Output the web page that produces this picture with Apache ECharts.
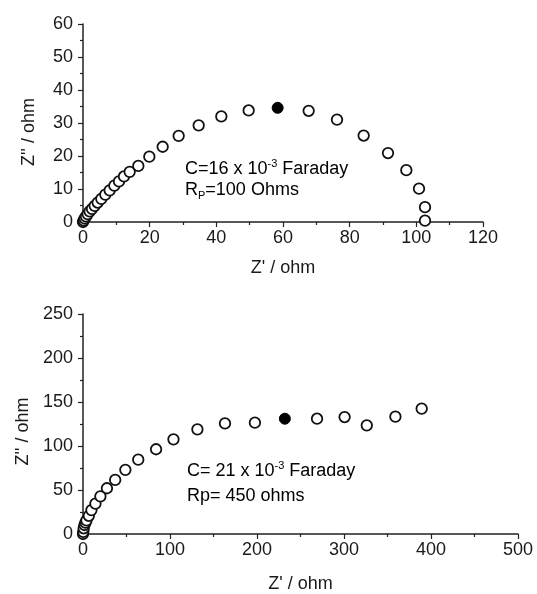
<!DOCTYPE html>
<html>
<head>
<meta charset="utf-8">
<script src="https://cdn.jsdelivr.net/npm/echarts@6/dist/echarts.min.js"></script>
<style>html,body{margin:0;padding:0;background:#fff;}#c{width:537px;height:594px;}</style>
</head>
<body>
<div id="c"></div>
<script>
// Top panel (C=16e-3 F, Rp=100 Ohm)
var topZre = [0, 0.2, 0.5, 0.9, 1.4, 2.0, 2.7, 3.5, 4.4, 5.5, 6.7, 8.0, 9.4, 10.8, 12.3, 14.0, 16.6, 19.9, 23.9, 28.7, 34.7, 41.5, 49.7, 67.7, 76.2, 84.2, 91.5, 97.0, 100.8, 102.6, 102.6];
var topZim = [0, 0.5, 1.1, 1.7, 2.4, 3.2, 4.0, 4.9, 5.9, 7.0, 8.3, 9.6, 11.0, 12.3, 13.8, 15.2, 17.0, 19.8, 22.8, 26.1, 29.3, 32.0, 33.8, 33.7, 31.0, 26.2, 20.9, 15.7, 10.1, 4.5, 0.4];
var topFilled = [[58.4, 34.6]];
// Bottom panel (C=21e-3 F, Rp=450 ohm)
var botZre = [0, 0.3, 0.8, 1.7, 2.8, 4.0, 6.7, 9.7, 14.3, 20.0, 27.5, 37.0, 48.7, 63.5, 84.0, 104.0, 131.5, 163.2, 197.6, 269.0, 300.7, 326.2, 359.1, 389.3];
var botZim = [0, 2.5, 6.5, 10.2, 13.0, 15.5, 20.7, 27.2, 34.5, 42.8, 52.0, 61.5, 72.9, 84.5, 96.3, 107.6, 118.9, 125.7, 126.5, 131.0, 132.9, 123.5, 133.3, 142.4];
var botFilled = [[232, 131]];
// Axis ticks
var topX = {min: 0, max: 120, interval: 20};
var topY = {min: 0, max: 60, interval: 10};
var botX = {min: 0, max: 500, interval: 100};
var botY = {min: 0, max: 250, interval: 50};

function zip(a, b) { return a.map(function (v, i) { return [v, b[i]]; }); }

var FONT = 'Liberation Sans, Arial, sans-serif';
var TXT = '#1a1a1a';
var LINE = '#222';
var FS = 18;

function xAxis(idx, r, gap) {
  return {
    type: 'value', gridIndex: idx, min: r.min, max: r.max, interval: r.interval,
    name: "Z' / ohm", nameLocation: 'middle', nameGap: gap,
    nameTextStyle: {fontFamily: FONT, fontSize: FS, color: TXT},
    axisLine: {show: true, onZero: false, lineStyle: {color: LINE, width: 1.5}},
    axisTick: {show: true, length: 5, lineStyle: {color: LINE, width: 1.2}},
    minorTick: {show: true, splitNumber: 2, length: 3, lineStyle: {color: LINE, width: 1.2}},
    axisLabel: {fontFamily: FONT, fontSize: FS, color: TXT, margin: 7},
    splitLine: {show: false}
  };
}
function yAxis(idx, r, shift) {
  return {
    type: 'value', gridIndex: idx, min: r.min, max: r.max, interval: r.interval,
    name: "Z'' / ohm", nameLocation: 'middle', nameGap: 45,
    nameTextStyle: {fontFamily: FONT, fontSize: FS, color: TXT, padding: [0, shift, 0, 0]},
    axisLine: {show: true, onZero: false, lineStyle: {color: LINE, width: 1.5}},
    axisTick: {show: true, length: 5, lineStyle: {color: LINE, width: 1.2}},
    minorTick: {show: true, splitNumber: 2, length: 3, lineStyle: {color: LINE, width: 1.2}},
    axisLabel: {fontFamily: FONT, fontSize: FS, color: TXT, margin: 10},
    splitLine: {show: false}
  };
}
function openSeries(idx, data) {
  return {
    type: 'scatter', xAxisIndex: idx, yAxisIndex: idx, data: data,
    symbol: 'circle', symbolSize: 10.5,
    itemStyle: {color: '#fff', borderColor: '#111', borderWidth: 1.8, opacity: 1},
    silent: true
  };
}
function filledSeries(idx, data) {
  return {
    type: 'scatter', xAxisIndex: idx, yAxisIndex: idx, data: data,
    symbol: 'circle', symbolSize: 11,
    itemStyle: {color: '#000', borderColor: '#000', borderWidth: 1, opacity: 1},
    silent: true
  };
}

var rich = {
  a: {fontFamily: FONT, fontSize: FS, color: TXT, lineHeight: 22},
  sup: {fontFamily: FONT, fontSize: 11, color: TXT, verticalAlign: 'top', lineHeight: 22, padding: [0, 0, 8, 0]},
  sub: {fontFamily: FONT, fontSize: 11, color: TXT, verticalAlign: 'bottom', lineHeight: 22, padding: [6, 0, 0, 0]}
};

var chart = echarts.init(document.getElementById('c'), null, {renderer: 'canvas'});
chart.setOption({
  backgroundColor: '#fff',
  animation: false,
  grid: [
    {left: 83, top: 24, width: 400, height: 198},
    {left: 83, top: 314, width: 435, height: 221}
  ],
  xAxis: [xAxis(0, topX, 37), xAxis(1, botX, 41)],
  yAxis: [yAxis(0, topY, 18), yAxis(1, botY, 15)],
  series: [
    openSeries(0, zip(topZre, topZim)),
    filledSeries(0, topFilled),
    openSeries(1, zip(botZre, botZim)),
    filledSeries(1, botFilled)
  ],
  graphic: [
    {type: 'text', left: 185, top: 158, style: {text: '{a|C=16 x 10}{sup|-3}{a| Faraday}', rich: rich}},
    {type: 'text', left: 185, top: 181, style: {text: '{a|R}{sub|P}{a|=100 Ohms}', rich: rich}},
    {type: 'text', left: 187, top: 460, style: {text: '{a|C= 21 x 10}{sup|-3}{a| Faraday}', rich: rich}},
    {type: 'text', left: 187, top: 487, style: {text: '{a|Rp= 450 ohms}', rich: rich}}
  ]
});
</script>
</body>
</html>
